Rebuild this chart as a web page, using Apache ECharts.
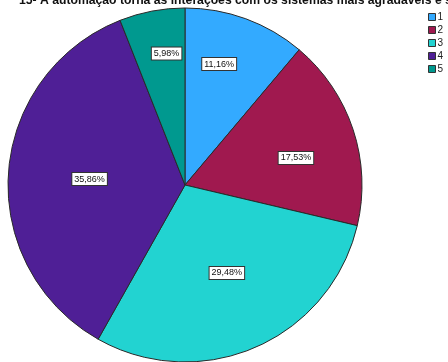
<!DOCTYPE html>
<html>
<head>
<meta charset="utf-8">
<script src="https://cdn.jsdelivr.net/npm/echarts@6/dist/echarts.min.js"></script>
<style>
  html, body { margin: 0; padding: 0; background: #fff; }
  #chart { width: 448px; height: 362px; }
</style>
</head>
<body>
<div id="chart"></div>
<script>
// Answer categories and their shares (%)
const categories = ['1', '2', '3', '4', '5'];
const shares = [11.16, 17.53, 29.48, 35.86, 5.98];
const sliceColors = ['#33aaff', '#a0194f', '#22d3d1', '#4f1f96', '#00998f'];

const titleText = '15- A automação torna as interações com os sistemas mais agradáveis e satisfatórias';

// Label placement per slice: [fraction of radius, angular shift in degrees]
const labelSpots = [[0.71, -4.3], [0.645, 4.6], [0.55, -1.8], [0.54, -0.4], [0.75, 2.8]];

const cx = 185, cy = 185, radius = 177;
const total = shares.reduce((a, b) => a + b, 0);
const midAngles = [];
let acc = 0;
shares.forEach(v => { midAngles.push((acc + v / 2) / total * 360); acc += v; });

const chart = echarts.init(document.getElementById('chart'), null, { renderer: 'canvas' });
chart.setOption({
  animation: false,
  backgroundColor: '#ffffff',
  title: {
    text: titleText,
    left: 14,
    top: -10,
    padding: 5,
    textStyle: { fontFamily: 'Liberation Sans, Arial, sans-serif', fontSize: 12.2, fontWeight: 'bold', color: '#111' }
  },
  legend: {
    orient: 'vertical',
    left: 428,
    top: 12,
    padding: 0,
    itemWidth: 7,
    itemHeight: 7,
    itemGap: 3,
    icon: 'rect',
    data: categories,
    itemStyle: { borderColor: '#333', borderWidth: 1 },
    textStyle: { fontFamily: 'Liberation Sans, Arial, sans-serif', fontSize: 10, color: '#222', padding: [0, 0, 0, -3] }
  },
  series: [{
    type: 'pie',
    center: [cx, cy],
    radius: radius,
    startAngle: 90,
    clockwise: true,
    avoidLabelOverlap: false,
    data: categories.map((c, i) => ({ name: c, value: shares[i], itemStyle: { color: sliceColors[i] } })),
    itemStyle: { borderColor: '#2a2a2a', borderWidth: 1 },
    emphasis: { disabled: true },
    label: {
      show: true,
      position: 'inside',
      formatter: p => shares[p.dataIndex].toFixed(2).replace('.', ',') + '%',
      fontFamily: 'Liberation Sans, Arial, sans-serif',
      fontSize: 9,
      color: '#111',
      backgroundColor: '#ffffff',
      borderColor: '#333',
      borderWidth: 1,
      padding: [2, 2, 1, 2]
    },
    labelLine: { show: false },
    labelLayout: function (params) {
      const i = params.dataIndex;
      const spot = labelSpots[i];
      const a = (midAngles[i] + spot[1]) * Math.PI / 180;
      return {
        x: cx + radius * spot[0] * Math.sin(a),
        y: cy - radius * spot[0] * Math.cos(a),
        align: 'center',
        verticalAlign: 'middle'
      };
    }
  }]
});
</script>
</body>
</html>
